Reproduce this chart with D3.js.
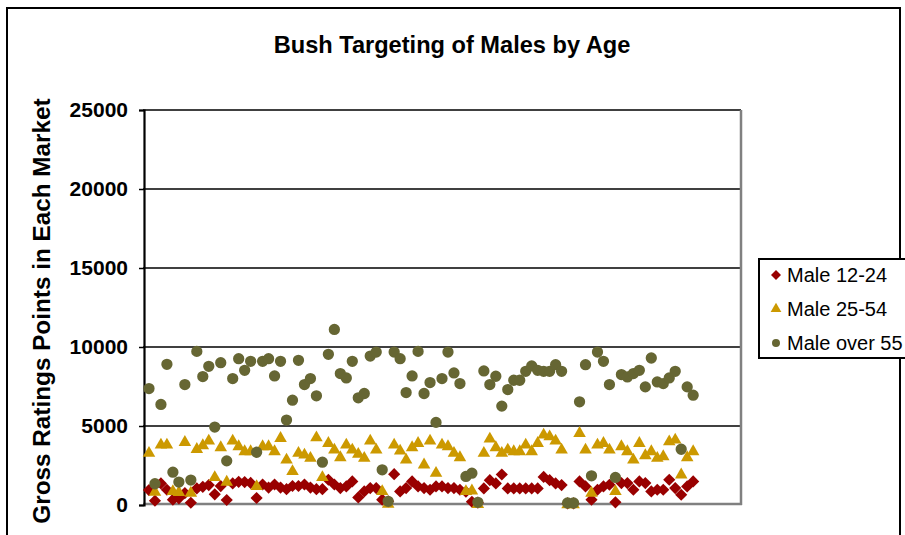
<!DOCTYPE html>
<html><head><meta charset="utf-8">
<script src="https://cdn.jsdelivr.net/npm/d3@7"></script>
<style>html,body{margin:0;padding:0;background:#fff;overflow:hidden}svg{display:block;font-family:"Liberation Sans",Arial,sans-serif}</style>
</head><body>
<script>
const title = "Bush Targeting of Males by Age";
const yTitle = "Gross Ratings Points in Each Market";
const seriesNames = ["Male 12-24", "Male 25-54", "Male over 55"];
const yTicks = [0, 5000, 10000, 15000, 20000, 25000];
const male1224 = [943,270,1365,966,336,421,756,145,1050,1151,1258,673,1195,314,1365,1466,1449,1400,441,1300,1100,1300,1100,1000,1200,1200,1300,1100,1000,1000,1600,1300,1071,1176,1491,480,861,1071,1071,336,231,1953,861,1071,1491,1176,1071,966,1176,1176,1071,1071,966,836,208,150,1050,1573,1365,1930,1050,1050,1050,1050,1050,1050,1780,1573,1365,1258,100,100,1491,1176,336,966,1176,1281,168,1386,1386,966,1491,1386,861,966,966,1596,1071,651,1176,1491];
const male2554 = [3276,819,3801,3801,861,798,3969,756,3528,3759,4053,1743,3633,1449,4053,3696,3381,3381,1176,3696,3696,3381,4221,2856,2121,3276,3171,2961,4263,1743,3906,3486,3003,3801,3486,3213,2961,4053,3486,861,60,3801,3423,2856,3633,3906,2541,4053,2016,3801,3696,3276,3003,861,900,40,3276,4179,3633,3276,3486,3381,3381,3801,3381,3906,4431,4326,4053,3486,30,30,4536,3486,756,3801,3906,3486,861,3696,3381,2856,3906,3129,3381,2961,3066,4011,4116,1911,3003,3381];
const maleOver55 = [7371,1344,6363,8904,2079,1449,7623,1575,9723,8127,8778,4935,9009,2793,8001,9261,8526,9093,3339,9093,9261,8169,9093,5376,6636,9156,7623,8001,6909,2709,9534,11109,8316,8043,9093,6783,7056,9429,9681,2226,231,9681,9261,7119,8169,9723,7056,7749,5229,8001,9681,8358,7686,1806,2016,168,8484,7623,8148,6258,7308,7896,7896,8463,8799,8526,8463,8463,8883,8463,126,126,6531,8883,1848,9681,9093,7623,1743,8253,8106,8316,8526,7476,9303,7791,7686,8043,8463,3528,7476,6951];
const colors = ["#990000", "#CC9900", "#666633"];

const W = 905, H = 535;
const svg = d3.select("body").append("svg").attr("width", W).attr("height", H);

// outer chart border
svg.append("rect").attr("x", 7).attr("y", 8).attr("width", 893).attr("height", 560)
  .attr("fill", "#fff").attr("stroke", "#000").attr("stroke-width", 2);

svg.append("text").attr("x", 452).attr("y", 53).attr("text-anchor", "middle")
  .attr("font-size", 23.6).attr("font-weight", "bold").text(title);

const x = d3.scaleLinear().domain([0, 100]).range([143, 741]);
const y = d3.scaleLinear().domain([0, 25000]).range([505, 110]);

// gridlines
svg.append("g").selectAll("line").data(yTicks.filter(d => d > 0)).join("line")
  .attr("x1", 143).attr("x2", 741).attr("y1", d => y(d)).attr("y2", d => y(d))
  .attr("stroke", "#000").attr("stroke-width", 1.3);

// plot border right/bottom (gray)
svg.append("line").attr("x1", 741).attr("x2", 741).attr("y1", 110).attr("y2", 505)
  .attr("stroke", "#808080").attr("stroke-width", 2.5);
svg.append("line").attr("x1", 143).attr("x2", 742).attr("y1", 504).attr("y2", 504)
  .attr("stroke", "#808080").attr("stroke-width", 2.5);

// y axis
const yAxis = d3.axisLeft(y).tickValues(yTicks).tickSize(5).tickPadding(11).tickFormat(d3.format("d"));
const ga = svg.append("g").attr("transform", "translate(144,0)").call(yAxis);
ga.select(".domain").attr("stroke", "#000").attr("stroke-width", 2.2);
ga.selectAll(".tick line").attr("stroke", "#000").attr("stroke-width", 1.5);
ga.selectAll(".tick text").attr("font-size", 21).attr("font-weight", "bold")
  .attr("font-family", "'Liberation Sans', Arial, sans-serif").attr("fill", "#000");

svg.append("text").attr("transform", "translate(50,311) rotate(-90)").attr("text-anchor", "middle")
  .attr("font-size", 24.3).attr("font-weight", "bold").text(yTitle);

const sym = [d3.symbolSquare, d3.symbolTriangle, d3.symbolCircle];
const sizes = [74, 68, 100];
const rot = [45, 0, 0];
const data = [male1224, male2554, maleOver55];

data.forEach((vals, s) => {
  const path = d3.symbol().type(sym[s]).size(sizes[s]);
  svg.append("g").selectAll("path").data(vals).join("path")
    .attr("d", path)
    .attr("transform", (d, i) => `translate(${x(i + 1)},${y(d)}) rotate(${rot[s]})`)
    .attr("fill", colors[s]);
});

// legend
const lg = svg.append("g");
lg.append("rect").attr("x", 759).attr("y", 259).attr("width", 160).attr("height", 99)
  .attr("fill", "#fff").attr("stroke", "#000").attr("stroke-width", 2);
seriesNames.forEach((n, i) => {
  const cy = 275 + i * 34;
  lg.append("path").attr("d", d3.symbol().type(sym[i]).size(50)())
    .attr("transform", `translate(776,${cy}) rotate(${rot[i]})`).attr("fill", colors[i]);
  lg.append("text").attr("x", 787).attr("y", cy + 7).attr("font-size", 20).text(n);
});
</script>
</body></html>
